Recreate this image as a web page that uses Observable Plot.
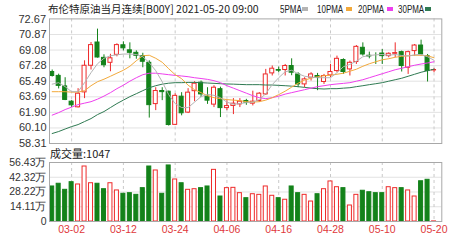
<!DOCTYPE html>
<html><head><meta charset="utf-8">
<script src="https://cdn.jsdelivr.net/npm/d3@7"></script>
<script src="https://cdn.jsdelivr.net/npm/@observablehq/plot@0.6"></script>
<style>
body{margin:0;background:#fff;}
#wrap{position:relative;width:460px;height:240px;overflow:hidden;font-family:"Liberation Sans",Arial,sans-serif;color:#333;}
#wrap svg{position:absolute;left:0;overflow:visible;}
#title{position:absolute;left:48px;top:1px;font-size:10.5px;font-family:"Noto Sans CJK SC",sans-serif;color:#222;white-space:nowrap;line-height:16px;}
.lg{position:absolute;top:1px;font-size:10.5px;font-family:"Liberation Sans",sans-serif;color:#222;line-height:16px;white-space:nowrap;transform:scaleX(0.76);transform-origin:0 0;}
.sw{position:absolute;top:7px;width:6px;height:4px;}
#vlab{position:absolute;left:50px;top:145px;font-size:11px;font-family:"Noto Sans CJK SC",sans-serif;color:#222;line-height:16px;white-space:nowrap;}
#toplab{position:absolute;left:0;width:46px;text-align:right;font-size:11px;line-height:14px;color:#333;z-index:10;font-family:"Liberation Sans",Arial,sans-serif;}
</style></head><body>
<div id="wrap">
<div id="title">布伦特原油当月连续[B00Y] 2021-05-20 09:00</div>
<div id="vlab">成交量:1047</div>
</div>
<script>
const dates = ["02-25","02-26","03-01","03-02","03-03","03-04","03-05","03-08","03-09","03-10",
"03-11","03-12","03-15","03-16","03-17","03-18","03-19","03-22","03-23","03-24",
"03-25","03-26","03-29","03-30","03-31","04-01","04-05","04-06","04-07","04-08",
"04-09","04-12","04-13","04-14","04-15","04-16","04-19","04-20","04-21","04-22",
"04-23","04-26","04-27","04-28","04-29","04-30","05-03","05-04","05-05","05-06",
"05-07","05-10","05-11","05-12","05-13","05-14","05-17","05-18","05-19","05-20"];
const open = [66.55,66.10,64.89,63.13,62.48,64.20,67.27,69.95,68.18,67.61,
68.53,69.63,69.05,68.76,68.38,67.61,62.85,64.36,64.28,60.46,
63.71,61.87,64.34,65.32,63.71,62.79,64.57,62.39,62.64,62.82,
63.21,62.90,63.21,63.97,66.39,66.78,66.78,67.24,66.27,65.12,
65.89,66.09,65.40,66.16,66.66,67.93,66.85,67.70,69.34,68.42,
68.30,68.68,68.38,68.65,68.84,67.04,68.96,69.60,68.38,66.73];
const high = [66.78,66.30,65.89,63.25,64.63,67.84,69.95,71.49,68.53,68.59,
69.80,70.03,69.91,68.99,68.71,67.84,64.74,64.74,64.34,64.05,
64.17,64.63,65.43,65.51,64.74,64.97,64.80,63.25,63.48,63.48,
63.40,64.34,64.17,66.85,67.24,67.12,67.42,68.07,66.47,65.89,
66.47,66.39,66.27,67.42,68.38,68.07,67.81,69.60,69.91,68.84,
68.76,69.14,68.76,69.91,68.96,68.96,69.72,70.22,68.57,66.93];
const low = [65.97,64.60,63.25,62.45,62.41,63.48,66.78,68.15,67.04,66.58,
68.30,68.99,68.07,68.02,67.04,61.24,62.10,63.25,60.32,60.38,
61.50,61.76,63.13,63.60,62.82,62.45,61.30,62.10,61.64,62.45,
62.71,62.64,63.05,63.86,66.09,66.47,66.09,66.12,64.74,64.74,
65.51,64.40,65.12,65.89,66.47,66.27,66.09,67.42,68.38,68.07,
67.42,67.42,68.19,68.19,66.55,66.27,68.38,68.38,65.40,66.47];
const close = [66.09,64.95,63.33,62.71,64.05,67.27,69.65,68.22,67.33,68.13,
69.65,69.28,68.76,68.42,67.73,62.73,64.36,64.23,60.44,63.80,
61.79,64.17,65.20,63.97,63.25,64.74,62.39,62.62,62.90,63.13,
63.02,63.13,64.05,66.27,66.93,66.70,67.24,66.47,65.12,65.70,
66.27,65.89,66.09,66.55,68.07,66.55,67.61,69.45,68.57,68.34,
68.30,68.38,68.65,68.73,67.24,68.84,69.60,68.57,66.66,66.78];
const ma5 = [65.15,65.32,64.86,64.28,64.28,65.32,66.47,67.50,68.13,68.42,
68.53,68.62,68.62,68.57,68.31,67.62,66.70,65.43,63.94,62.91,
62.45,62.45,63.08,63.71,63.97,63.86,63.59,63.08,62.83,62.91,
63.02,63.08,63.37,64.05,65.09,65.89,66.58,66.75,66.35,66.06,
65.95,65.89,65.89,65.89,66.47,67.16,67.42,67.79,68.31,68.45,
68.53,68.57,68.48,68.57,68.45,68.39,68.53,68.57,68.31,67.90];
const ma10 = [64.28,64.28,64.28,64.23,64.23,64.40,64.97,65.43,65.72,66.06,
66.41,66.75,67.21,67.85,68.42,68.48,68.13,67.67,66.93,66.24,
65.78,65.03,64.51,64.17,63.82,63.59,63.48,63.37,63.31,63.25,
63.13,63.08,63.13,63.31,63.59,63.94,64.34,64.80,65.26,65.61,
65.84,66.01,66.12,66.18,66.29,66.41,66.64,66.87,67.21,67.50,
67.73,67.96,68.08,68.25,68.36,68.42,68.48,68.48,68.42,68.19];
const ma20 = [61.58,61.87,62.22,62.50,62.79,62.96,63.13,63.42,63.77,64.17,
64.63,65.03,65.49,65.89,66.24,66.41,66.41,66.33,66.24,66.16,
66.09,66.01,65.89,65.80,65.70,65.55,65.32,64.97,64.69,64.40,
64.11,63.82,63.59,63.48,63.59,63.77,64.00,64.17,64.34,64.51,
64.69,64.86,64.97,65.09,65.17,65.24,65.32,65.49,65.66,65.89,
66.12,66.35,66.58,66.81,66.98,67.16,67.33,67.47,67.59,67.73];
const ma30 = [59.46,59.69,59.98,60.26,60.49,60.84,61.18,61.64,61.99,62.45,
62.91,63.31,63.71,64.05,64.40,64.74,64.97,65.15,65.26,65.32,
65.32,65.35,65.35,65.32,65.28,65.24,65.20,65.17,65.15,65.12,
65.09,65.09,65.09,65.05,65.05,65.01,64.97,64.92,64.86,64.78,
64.69,64.63,64.59,64.63,64.63,64.69,64.74,64.86,64.97,65.09,
65.20,65.32,65.49,65.66,65.83,66.06,66.29,66.52,66.70,66.87];
// volume in 万
const volume = [33.5,36.1,30.3,37.6,35.4,52.6,36.6,36.1,30.9,36.6,
29.7,26.5,27.1,25.5,31.9,52.6,48.8,26.5,53.6,40.2,
36.6,30.3,30.9,31.9,33.5,49.4,23.9,31.9,32.2,27.1,
22.3,26.1,25.5,33.5,24.6,22.3,20.8,33.5,27.1,25.5,
19.1,26.1,30.9,38.3,32.8,31.9,15.3,25.5,29.4,28.0,
27.1,27.1,32.8,31.9,31.9,29.7,23.9,38.5,39.9,0.1047];
const priceTicks = [58.31,60.10,61.90,63.69,65.49,67.28,69.08,70.87,72.67];
const volTicks = [0,14.11,28.22,42.32,56.43];
const dateLabels = ["03-02","03-12","03-24","04-06","04-16","04-28","05-10","05-20"];
const maNames = ["5PMA","10PMA","20PMA","30PMA"];
const maColors = ["#b4b4b4","#f2a93b","#ee3fee","#2f7a52"];

const RED = "#ee2a2a", GREEN = "#13821a", GRID = "#e2e2e2", DASH = "#c9c9c9", FRAME = "#a8a8a8";
const rows = dates.map((d, i) => {
  const up = close[i] > open[i] ? true : close[i] < open[i] ? false : (i > 0 ? close[i] >= close[i-1] : true);
  return {i, date: d, open: open[i], high: high[i], low: low[i], close: close[i], vol: volume[i], up};
});
const maSeries = [ma5, ma10, ma20, ma30];
const maRows = maSeries.flatMap((arr, k) => arr.map((v, i) => ({i, v, k})));
const tickIdx = dateLabels.map(l => dates.indexOf(l));
const xOpt = {type: "linear", domain: [-0.417, 60.2], axis: null};
const HW = 0.31;
const topTick = priceTicks[priceTicks.length - 1];

const price = Plot.plot({
  width: 460, height: 150, marginTop: 18.4, marginBottom: 7, marginLeft: 49, marginRight: 18.7,
  x: xOpt, y: {domain: [58.31, 72.67], axis: null, label: null}, color: {type: "identity"},
  style: {fontFamily: "Liberation Sans, Arial, sans-serif", fontSize: "11px", color: "#333", background: "transparent"},
  marks: [
    Plot.ruleY(priceTicks.slice(1, -1), {stroke: GRID}),
    Plot.ruleX(tickIdx, {stroke: DASH, strokeDasharray: "3,3"}),
    Plot.ruleX(rows, {x: "i", y1: "low", y2: "high", stroke: d => d.up ? RED : GREEN, strokeWidth: 1}),
    Plot.rect(rows, {x1: d => d.i - HW, x2: d => d.i + HW, y1: "open", y2: "close",
      fill: d => d.up ? "#fff" : GREEN, stroke: d => d.up ? RED : GREEN, strokeWidth: 1}),
    ...[3, 2, 1, 0].map(k => Plot.line(maRows.filter(d => d.k === k), {x: "i", y: "v", stroke: maColors[k], strokeWidth: 1})),
    Plot.frame({stroke: FRAME}),
    Plot.axisY(priceTicks.slice(0, -1), {tickSize: 0, tickPadding: 3, tickFormat: d => d.toFixed(2), fontSize: 11, fill: "#333", label: null})
  ]
});
price.style.top = "0px";

const vol = Plot.plot({
  width: 460, height: 95, marginTop: 17, marginBottom: 19, marginLeft: 49, marginRight: 18.7,
  x: xOpt, y: {domain: [0, 56.43], axis: null, label: null}, color: {type: "identity"},
  style: {fontFamily: "Liberation Sans, Arial, sans-serif", fontSize: "10px", color: "#333", background: "transparent"},
  marks: [
    Plot.ruleY(volTicks.slice(1, -1), {stroke: GRID}),
    Plot.ruleX(tickIdx, {stroke: DASH, strokeDasharray: "3,3"}),
    Plot.rect(rows, {x1: d => d.i - HW, x2: d => d.i + HW, y1: 0, y2: "vol",
      fill: d => d.up ? "#fff" : GREEN, stroke: d => d.up ? RED : GREEN, strokeWidth: 1}),
    Plot.frame({stroke: FRAME}),
    Plot.axisY(volTicks, {tickSize: 0, tickPadding: 3, tickFormat: d => d === 0 ? "0" : d.toFixed(2) + "万", fontSize: 10.5, fill: "#333", label: null}),
    Plot.axisX(tickIdx, {tickSize: 0, tickPadding: 4, tickFormat: i => dates[i], fontSize: 10.5, fill: "#e0383a", label: null})
  ]
});
vol.style.top = "145px";

const wrap = document.getElementById("wrap");
wrap.appendChild(price);
wrap.appendChild(vol);

// top price tick label, positioned with the plot's own y scale
const yTop = price.scale("y").apply(topTick);
const tl = document.createElement("div");
tl.id = "toplab";
tl.textContent = topTick.toFixed(2);
tl.style.top = (yTop - 6) + "px";
wrap.appendChild(tl);

const lgPos = [280, 317, 358, 398];
const swPos = [302, 346, 387, 425];
maNames.forEach((n, k) => {
  const el = document.createElement("div");
  el.className = "lg";
  el.style.left = lgPos[k] + "px";
  el.textContent = n;
  wrap.appendChild(el);
  const sw = document.createElement("div");
  sw.className = "sw";
  sw.style.left = swPos[k] + "px";
  sw.style.background = maColors[k];
  wrap.appendChild(sw);
});
</script>
</body></html>
